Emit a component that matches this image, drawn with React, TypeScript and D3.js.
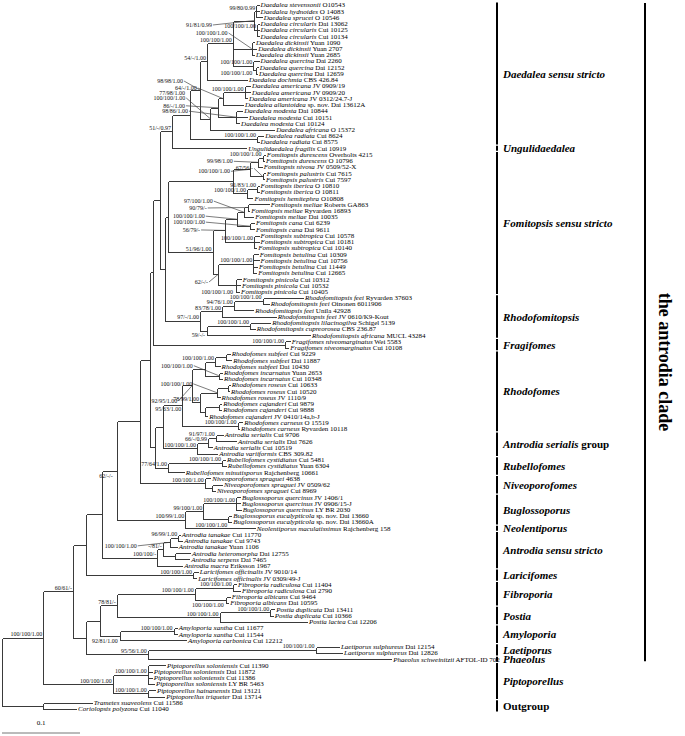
import React from "react";
import * as d3 from "d3";

const species = [
  "Daedalea stevensonii","Daedalea hydnoides","Daedalea sprucei","Daedalea circularis","Daedalea circularis","Daedalea circularis",
  "Daedalea dickinsii","Daedalea dickinsii","Daedalea dickinsii","Daedalea quercina","Daedalea quercina","Daedalea quercina",
  "Daedalea dochmia","Daedalea americana","Daedalea americana","Daedalea americana","Daedalea allantoidea","Daedalea modesta",
  "Daedalea modesta","Daedalea modesta","Daedalea africana","Daedalea radiata","Daedalea radiata","Ungulidaedalea fragilis",
  "Fomitopsis durescens","Fomitopsis durescens","Fomitopsis nivosa","Fomitopsis palustris","Fomitopsis palustris","Fomitopsis iberica",
  "Fomitopsis iberica","Fomitopsis hemitephra","Fomitopsis meliae","Fomitopsis meliae","Fomitopsis meliae","Fomitopsis cana",
  "Fomitopsis cana","Fomitopsis subtropica","Fomitopsis subtropica","Fomitopsis subtropica","Fomitopsis betulina","Fomitopsis betulina",
  "Fomitopsis betulina","Fomitopsis betulina","Fomitopsis pinicola","Fomitopsis pinicola","Fomitopsis pinicola","Rhodofomitopsis feei",
  "Rhodofomitopsis feei","Rhodofomitopsis feei","Rhodofomitopsis feei","Rhodofomitopsis lilacinogilva","Rhodofomitopsis cupreorosea","Rhodofomitopsis africana",
  "Fragifomes niveomarginatus","Fragifomes niveomarginatus","Rhodofomes subfeei","Rhodofomes subfeei","Rhodofomes subfeei","Rhodofomes incarnatus",
  "Rhodofomes incarnatus","Rhodofomes roseus","Rhodofomes roseus","Rhodofomes roseus","Rhodofomes cajanderi","Rhodofomes cajanderi",
  "Rhodofomes cajanderi","Rhodofomes carneus","Rhodofomes carneus","Antrodia serialis","Antrodia serialis","Antrodia serialis",
  "Antrodia variiformis","Rubellofomes cystidiatus","Rubellofomes cystidiatus","Rubellofomes minutisporus","Niveoporofomes spraguei","Niveoporofomes spraguei",
  "Niveoporofomes spraguei","Buglossoporus quercinus","Buglossoporus quercinus","Buglossoporus quercinus","Buglossoporus eucalypticola","Buglossoporus eucalypticola",
  "Neolentiporus maculatissimus","Antrodia tanakae","Antrodia tanakae","Antrodia tanakae","Antrodia heteromorpha","Antrodia serpens",
  "Antrodia macra","Laricifomes officinalis","Laricifomes officinalis","Fibroporia radiculosa","Fibroporia radiculosa","Fibroporia albicans",
  "Fibroporia albicans","Postia duplicata","Postia duplicata","Postia lactea","Amyloporia xantha","Amyloporia xantha",
  "Amyloporia carbonica","Laetiporus sulphureus","Laetiporus sulphureus","Phaeolus schweinitzii","Piptoporellus soloniensis","Piptoporellus soloniensis",
  "Piptoporellus soloniensis","Piptoporellus soloniensis","Piptoporellus hainanensis","Piptoporellus triqueter","Trametes suaveolens","Coriolopsis polyzona"
];

const vouchers = [
  "O10543","O 14083","O 10546","Dai 13062","Cui 10125","Cui 10134",
  "Yuan 1090","Yuan 2707","Yuan 2685","Dai 2260","Dai 12152","Dai 12659",
  "CBS 426.84","JV 0909/19","JV 0909/20","JV 0312/24.7-J","sp. nov. Dai 13612A","Dai 10844",
  "Cui 10151","Cui 10124","O 15372","Cui 8624","Cui 8575","Cui 10919",
  "Overholts 4215","O 10796","JV 0509/52-X","Cui 7615","Cui 7597","O 10810",
  "O 10811","O10808","Roberts GA863","Ryvarden 16893","Dai 10035","Cui 6239",
  "Dai 9611","Cui 10578","Cui 10181","Cui 10140","Cui 10309","Cui 10756",
  "Cui 11449","Cui 12665","Cui 10312","Cui 10532","Cui 10405","Ryvarden 37603",
  "Oinonen 6011906","Unila 42928","JV 0610/K9-Kout","Schigel 5139","CBS 236.87","MUCL 43284",
  "Wei 5583","Cui 10108","Cui 9229","Dai 11887","Dai 10430","Yuan 2653",
  "Cui 10348","Cui 10633","Cui 10520","JV 1110/9","Cui 9879","Cui 9888",
  "JV 0410/14a,b-J","O 15519","Ryvarden 10118","Cui 9706","Dai 7626","Cui 10519",
  "CBS 309.82","Cui 5481","Yuan 6304","Rajchenberg 10661","4638","JV 0509/62",
  "Cui 8969","JV 1406/1","JV 0906/15-J","LY BR 2030","sp. nov. Dai 13660","sp. nov. Dai 13660A",
  "Rajchenberg 158","Cui 11770","Cui 9743","Yuan 1106","Dai 12755","Dai 7465",
  "Eriksson 1967","JV 9010/14","JV 0309/49-J","Cui 11404","Cui 2790","Cui 9464",
  "Dai 10595","Dai 13411","Cui 10366","Cui 12206","Cui 11677","Cui 11544",
  "Cui 12212","Dai 12154","Dai 12826","AFTOL-ID 702","Cui 11390","Dai 11872",
  "Cui 11386","LY BR 5463","Dai 13121","Dai 13714","Cui 11586","Cui 11040"
];

// cumulative branch length of each tip (x 1e-3 substitutions/site)
const tipDepth = [
  329,329,333,329,329,329, 323,326,323,329,328,327,
  314,318,318,314,309,308, 314,304,349,335,329,313,
  337,336,333,337,336,329, 329,321,342,317,322,323,
  323,329,329,326,328,329, 327,326,306,305,304,386,
  342,322,351,344,324,395, 369,367,292,294,279,282,
  282,292,291,279,281,281, 263,308,304,283,300,269,
  276,286,287,233,267,282, 273,305,305,306,294,294,
  324,228,231,224,241,240, 231,251,249,300,305,292,
  290,349,347,391,224,224, 236,432,436,499,209,192,
  192,195,196,208,115,95
];

// internal nodes: leaf range (1-based, inclusive), depth, support (ML/MP/BI)
const nodeRange: [number, number][] = [
  [1,3],[4,6],[1,6],[7,9],[11,12],[10,12],[1,12],[1,13],[14,16],[14,17],[18,20],[14,20],[14,21],[1,21],[22,23],[1,23],[1,24],
  [25,26],[25,27],[28,29],[25,29],[30,31],[30,32],[25,32],[33,34],[33,35],[36,37],[33,37],[38,40],[33,40],[41,44],[45,47],[41,47],[33,47],[25,47],
  [48,49],[48,50],[48,51],[52,53],[52,54],[48,54],[25,54],[1,54],[55,56],[1,56],
  [57,58],[57,59],[60,61],[57,61],[62,63],[62,64],[65,66],[65,67],[62,67],[57,67],[68,69],[57,69],
  [70,71],[70,72],[70,73],[57,73],[74,75],[74,76],[57,76],[1,76],[78,79],[77,79],[1,79],
  [80,82],[83,84],[80,84],[80,85],[1,85],[86,87],[86,88],[89,90],[86,90],[86,91],[1,91],[92,93],[1,93],
  [94,95],[96,97],[94,97],[98,99],[98,100],[94,100],[101,102],[101,103],[94,103],[104,105],[104,106],[94,106],[1,106],
  [107,110],[111,112],[107,112],[1,112],[113,114],[1,114]
];
const nodeDepth = [
  326,327,323,320,326,322,296,263,311,283,300,277,267,254,327,241,218,
  334,328,334,318,327,314,296,315,310,318,301,323,286,322,300,277,270,213,
  334,297,282,318,263,254,209,203,363,194,
  287,273,278,260,290,276,278,260,254,244,302,231,
  274,264,250,206,282,213,196,190,269,260,177,
  300,290,258,235,147,226,215,222,206,199,128,245,108,
  296,287,247,344,279,147,220,151,126,402,187,108,91,
  187,187,142,53,53,0
];
const nodeSupport = [
  "99/80/0.99","100/100/1.00","91/81/0.99","100/100/1.00","100/100/1.00","100/100/1.00","100/100/1.00","54/-/1.00","100/100/1.00","64/-/1.00","98/86/1.00","86/-/1.00","100/100/1.00","98/98/1.00","100/100/1.00","77/98/1.00","51/-/0.97",
  "100/100/1.00","99/98/1.00","67/56/-","100/100/1.00","91/83/1.00","100/100/1.00","","90/79/-","97/100/1.00","100/100/1.00","100/100/1.00","100/100/1.00","56/79/-","100/100/1.00","100/100/1.00","62/-/-","51/96/1.00","",
  "100/100/1.00","94/76/1.00","83/78/1.00","100/100/1.00","59/-/-","97/-/1.00","","","100/100/1.00","",
  "","100/100/1.00","100/100/1.00","","","100/100/1.00","","","78/99/1.00","92/95/1.00","100/100/1.00","95/63/1.00",
  "91/97/1.00","66/-/0.99","100/100/1.00","","100/100/1.00","77/64/1.00","","","","100/100/1.00","",
  "100/100/1.00","100/100/1.00","99/100/1.00","100/99/1.00","62/-/-","96/99/1.00","100/100/1.00","","-/81/-","100/100/-","","100/100/1.00","",
  "100/100/1.00","100/100/1.00","100/100/1.00","100/100/1.00","100/100/1.00","78/81/-","100/100/1.00","92/81/1.00","","100/100/1.00","95/56/1.00","","60/61/-",
  "100/100/1.00","100/100/1.00","100/100/1.00","100/100/1.00","",""
];

// label placement (layout only): offset of the label's right end / baseline from its node
const labelOffset: Record<string, [number, number]> = {
  "1-6": [-42, 6.4], "7-9": [-24, -13.6], "11-12": [-4, 5], "14-17": [-26, -8.5], "1-21": [-17, -7],
  "1-23": [-5, -19.5], "14-21": [-25, -18.7], "14-20": [-33, 0], "18-20": [-48, -4],
  "25-27": [-25, 1], "28-29": [-9.5, -6], "25-29": [-20, 4], "33-35": [-31, -9], "33-34": [-41, 2.5],
  "33-37": [-32, -1], "36-37": [-45, -2], "33-40": [-25, 1.5], "45-47": [-3, 8.5], "41-47": [-10, 9.5],
  "52-54": [-2, 6.5], "60-61": [-26, -8], "62-64": [-25, -7], "57-67": [-15, 17.5], "57-69": [-1, 6],
  "83-84": [-1, 8], "86-88": [-33, 5.5], "96-97": [-2, 7], "101-103": [-2, 7.5], "1-85": [-4, 7]
};

const cladeNames = [
  "Daedalea sensu stricto","Ungulidaedalea","Fomitopsis sensu stricto","Rhodofomitopsis","Fragifomes","Rhodofomes",
  "Antrodia serialis|group","Rubellofomes","Niveoporofomes","Buglossoporus","Neolentiporus","Antrodia sensu stricto",
  "Laricifomes","Fibroporia","Postia","Amyloporia","Laetiporus","Phaeolus","Piptoporellus","|Outgroup"
];
const cladeRange: [number, number][] = [
  [1,23],[24,24],[25,47],[48,54],[55,56],[57,69],[70,73],[74,76],[77,79],[80,84],[85,85],[86,91],
  [92,93],[94,97],[98,100],[101,103],[104,105],[106,106],[107,112],[113,114]
];
const bigClade = { name: "the antrodia clade", range: [1, 106] as [number, number] };
const scaleBarValue = 100; // 0.1 substitutions/site

type Item = {
  lo: number; hi: number; depth: number; support: string; leaf: boolean; idx: number;
  children: Item[]; parent?: Item; y: number;
};

export default function App() {
  const W = 685, H = 736;
  const n = species.length;
  const yScale = d3.scaleLinear().domain([1, n]).range([5, 709]);
  const xScale = d3.scaleLinear().domain([0, 100]).range([2, 80]);

  const leaves: Item[] = species.map((_, i) => ({
    lo: i + 1, hi: i + 1, depth: tipDepth[i], support: "", leaf: true, idx: i, children: [], y: yScale(i + 1),
  }));
  const nodes: Item[] = nodeRange.map((r, j) => ({
    lo: r[0], hi: r[1], depth: nodeDepth[j], support: nodeSupport[j], leaf: false, idx: j, children: [], y: 0,
  }));
  const sorted = nodes.slice().sort((a, b) => (a.hi - a.lo) - (b.hi - b.lo));
  for (const it of [...leaves, ...nodes]) {
    const p = sorted.find(nd => nd !== it && nd.lo <= it.lo && nd.hi >= it.hi && (nd.hi - nd.lo) > (it.hi - it.lo));
    if (p) { it.parent = p; p.children.push(it); }
  }
  for (const nd of sorted) {
    const ys = nd.children.map(c => c.y);
    nd.y = ((d3.min(ys) ?? 0) + (d3.max(ys) ?? 0)) / 2;
  }
  const px = (v: number) => Math.round(v) + 0.5;
  const stroke = "#3a3a3a";
  const all = [...leaves, ...nodes];
  const serif = "'Liberation Serif', 'Times New Roman', serif";

  const labels = nodes.filter(nd => nd.support).map(nd => {
    const key = `${nd.lo}-${nd.hi}`;
    const nx = xScale(nd.depth), ny = nd.y;
    const off = labelOffset[key];
    const lx = off ? nx + off[0] : nx - 1;
    const ly = off ? ny + off[1] : ny - 1.5;
    const leader = off && Math.abs(off[0]) > 8;
    return { key, text: nd.support, lx, ly, nx, ny, leader };
  });

  const bigTop = yScale(bigClade.range[0]) - 2, bigBottom = yScale(bigClade.range[1]) + 2;

  return (
    <svg width={W} height={H} viewBox={`0 0 ${W} ${H}`} style={{ position: "absolute", left: 0, top: 0, background: "#fff" }}
      fontFamily={serif}>
      <g shapeRendering="crispEdges" stroke={stroke} strokeWidth={1}>
        {all.filter(it => it.parent).map((it, k) => (
          <line key={"h" + k} x1={px(xScale(it.parent!.depth))} x2={px(xScale(it.depth))} y1={px(it.y)} y2={px(it.y)} />
        ))}
        {nodes.map((nd, k) => {
          const ys = nd.children.map(c => c.y);
          return <line key={"v" + k} x1={px(xScale(nd.depth))} x2={px(xScale(nd.depth))} y1={px(d3.min(ys)!)} y2={px(d3.max(ys)!)} />;
        })}
      </g>
      <g stroke="#444" strokeWidth={0.7}>
        {labels.filter(l => l.leader).map(l => (
          <line key={"l" + l.key} x1={l.lx + 1} y1={l.ly - 2} x2={l.nx} y2={l.ny} />
        ))}
      </g>
      <g fontSize={6} fill="#111" textAnchor="end">
        {labels.map(l => (
          <text key={"s" + l.key} x={l.lx} y={l.ly}>{l.text}</text>
        ))}
      </g>
      <g fontSize={7} fill="#000">
        {leaves.map((lf, i) => (
          <text key={"t" + i} x={xScale(lf.depth) + 2} y={lf.y + 2.4}>
            <tspan fontStyle="italic">{species[i]}</tspan>
            <tspan>{" " + vouchers[i]}</tspan>
          </text>
        ))}
      </g>
      <g>
        {cladeNames.map((nm, k) => {
          const [a, b] = cladeRange[k];
          const y1 = yScale(a) - 2.5, y2 = yScale(b) + 2.5;
          const parts = nm.split("|");
          return (
            <g key={"c" + k}>
              <line x1={497} x2={497} y1={y1} y2={y2} stroke="#000" strokeWidth={2} />
              <text x={503} y={(y1 + y2) / 2 + 4} fontSize={11} fontWeight="bold">
                {parts[0] && <tspan fontStyle="italic">{parts[0]}</tspan>}
                {parts[1] && <tspan>{(parts[0] ? " " : "") + parts[1]}</tspan>}
              </text>
            </g>
          );
        })}
      </g>
      <line x1={645} x2={645} y1={bigTop} y2={bigBottom} stroke="#000" strokeWidth={2} />
      <text transform={`translate(659, 362) rotate(90)`} textAnchor="middle" fontSize={18} fontWeight="bold">{bigClade.name}</text>
      <line x1={xScale(0)} x2={xScale(scaleBarValue)} y1={733} y2={733} stroke="#777" strokeWidth={1} />
      <text x={(xScale(0) + xScale(scaleBarValue)) / 2} y={725} fontSize={7} textAnchor="middle">{(scaleBarValue / 1000).toString()}</text>
    </svg>
  );
}
